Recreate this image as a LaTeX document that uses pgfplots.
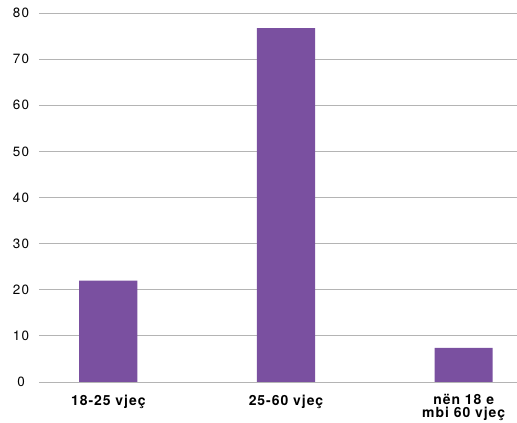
\documentclass[border=0pt]{standalone}
\usepackage{fontspec}
\setmainfont{TeX Gyre Heros}
\usepackage{pgfplots}
\pgfplotsset{compat=1.18}
\definecolor{barpurple}{HTML}{7A50A0}
\definecolor{gridgray}{HTML}{B4B4B4}
\begin{document}
\begin{tikzpicture}
\begin{axis}[
  name=ax,
  scale only axis,
  width=478bp, height=369bp,
  xmin=-0.39, xmax=2.30,
  ymin=0, ymax=80,
  ytick={0,10,...,80},
  xtick={0,1,2},
  xticklabels={18-25 vjeç, 25-60 vjeç, {nën 18 e\\mbi 60 vjeç}},
  axis line style={draw=none},
  major tick length=0pt,
  ymajorgrids,
  grid style={gridgray, line width=0.9bp},
  /pgf/number format/assume math mode=true,
  yticklabel style={anchor=center, inner sep=0pt, xshift=-18bp, font=\fontsize{13.5}{14}\selectfont\addfontfeatures{LetterSpace=10}},
  xticklabel style={anchor=north, inner sep=0pt, yshift=-12.5bp, align=center, font=\bfseries\fontsize{14}{12.8}\selectfont\addfontfeatures{LetterSpace=7}},
  clip=false,
]
\addplot[ybar, bar width=0.327, fill=barpurple, draw=none] coordinates {(0,22) (1,76.7) (2,7.4)};
\end{axis}
\pgfresetboundingbox
\path ([xshift=-39bp,yshift=13bp]ax.north west) rectangle ([yshift=-41bp]ax.south east);
\end{tikzpicture}
\end{document}
